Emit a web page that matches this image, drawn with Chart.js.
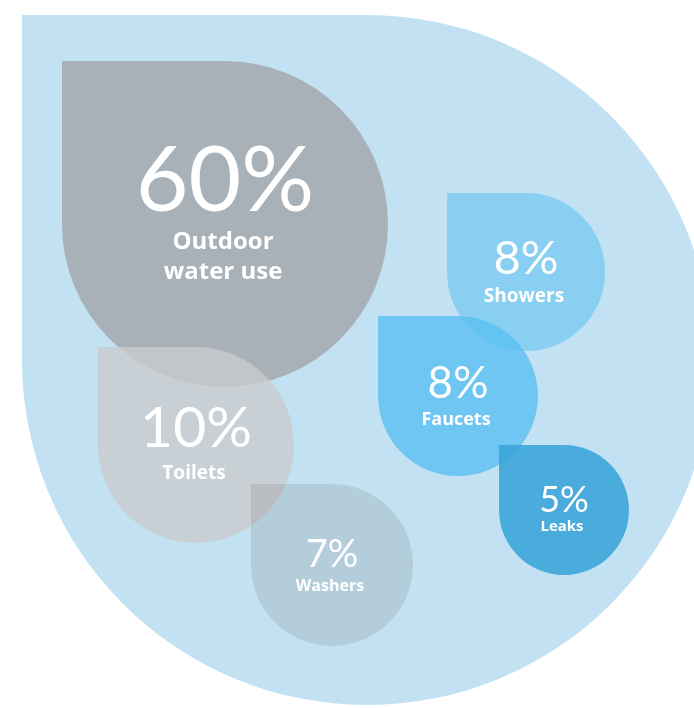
<!DOCTYPE html>
<html>
<head>
<meta charset="utf-8">
<script src="https://cdn.jsdelivr.net/npm/chart.js@4"></script>
<style>
  html, body { margin: 0; padding: 0; background: #ffffff; }
  #wrap { width: 694px; height: 708px; }
</style>
</head>
<body>
<div id="wrap"><canvas id="myChart" width="694" height="708"></canvas></div>
<script>
// Data
const categories = [['Outdoor', 'water use'], ['Toilets'], ['Washers'], ['Showers'], ['Faucets'], ['Leaks']];
const shares = [60, 10, 7, 8, 8, 5];
// bubble centre and radius (chart units = pixels, axes are 0..694 and 0..708)
const dropX = [225, 196, 332, 526, 458, 564];
const dropY = [224, 445, 565, 272, 396, 510];
const dropR = [163, 98, 81, 79, 80, 65];
// the big background drop
const backX = [367];
const backY = [360];
const backR = [345];

// Styles
const dropColors = ['#a9b1b8', 'rgba(201,204,205,0.8)', 'rgb(237,232,230)', '#88cff2', 'rgba(90,191,243,0.8)', 'rgba(56,163,217,0.87)'];
const dropBlend = ['source-over', 'source-over', 'multiply', 'source-over', 'source-over', 'source-over'];
const numberSize = [91, 57, 38, 47, 44, 36];
const labelSize = [24, 19, 16, 19, 18, 15];
const labelGap = [38, 32, 24, 28, 27, 19];
const NUM_FONT = 'Lato, sans-serif';
const LABEL_FONT = '"Open Sans", sans-serif';

/**
 * Path for a drop: square top-left corner, the other three fully rounded
 */
function dropPath(ctx, cx, cy, r) {
    ctx.beginPath();
    ctx.moveTo(cx - r, cy - r);
    ctx.lineTo(cx, cy - r);
    ctx.arc(cx, cy, r, -Math.PI / 2, Math.PI, false);
    ctx.closePath();
}

// draw the bubbles as drops instead of circles
const dropPlugin = {
    id: 'drops',
    beforeDatasetDraw(chart, args) {
        const ctx = chart.ctx;
        const ds = chart.data.datasets[args.index];
        ctx.save();
        args.meta.data.forEach((el, i) => {
            const r = el.options.radius;
            ctx.globalCompositeOperation = ds.blend ? ds.blend[i] : 'source-over';
            ctx.fillStyle = Array.isArray(ds.backgroundColor) ? ds.backgroundColor[i] : ds.backgroundColor;
            dropPath(ctx, el.x, el.y, r);
            ctx.fill();
        });
        ctx.restore();
        return false;
    },
    afterDatasetsDraw(chart) {
        const ctx = chart.ctx;
        const meta = chart.getDatasetMeta(1);
        ctx.save();
        ctx.fillStyle = '#ffffff';
        ctx.textAlign = 'center';
        ctx.textBaseline = 'alphabetic';
        meta.data.forEach((el, i) => {
            let y = el.y + 2;
            if (i === 0) y -= 15;
            ctx.font = '400 ' + numberSize[i] + 'px ' + NUM_FONT;
            ctx.fillText(shares[i] + '%', el.x, y);
            ctx.font = '700 ' + labelSize[i] + 'px ' + LABEL_FONT;
            let ly = y + labelGap[i];
            categories[i].forEach((line) => {
                ctx.fillText(line, el.x - 2, ly);
                ly += labelSize[i] * 1.25;
            });
        });
        ctx.restore();
    }
};

const ctx = document.getElementById('myChart').getContext('2d');
const myChart = new Chart(ctx, {
    type: 'bubble',
    data: {
        datasets: [
            {
                label: 'background',
                data: backX.map((x, i) => ({ x: x, y: backY[i], r: backR[i] })),
                backgroundColor: '#c2e2f3',
                order: 2,
                clip: false
            },
            {
                label: 'Water use',
                data: dropX.map((x, i) => ({ x: x, y: dropY[i], r: dropR[i] })),
                backgroundColor: dropColors,
                blend: dropBlend,
                order: 1,
                clip: false
            }
        ]
    },
    options: {
        responsive: false,
        animation: false,
        events: [],
        layout: { padding: 0, autoPadding: false },
        plugins: {
            legend: { display: false },
            tooltip: { enabled: false }
        },
        scales: {
            x: { type: 'linear', min: 0, max: 694, display: false },
            y: { type: 'linear', min: 0, max: 708, reverse: true, display: false }
        }
    },
    plugins: [dropPlugin]
});
</script>
</body>
</html>
